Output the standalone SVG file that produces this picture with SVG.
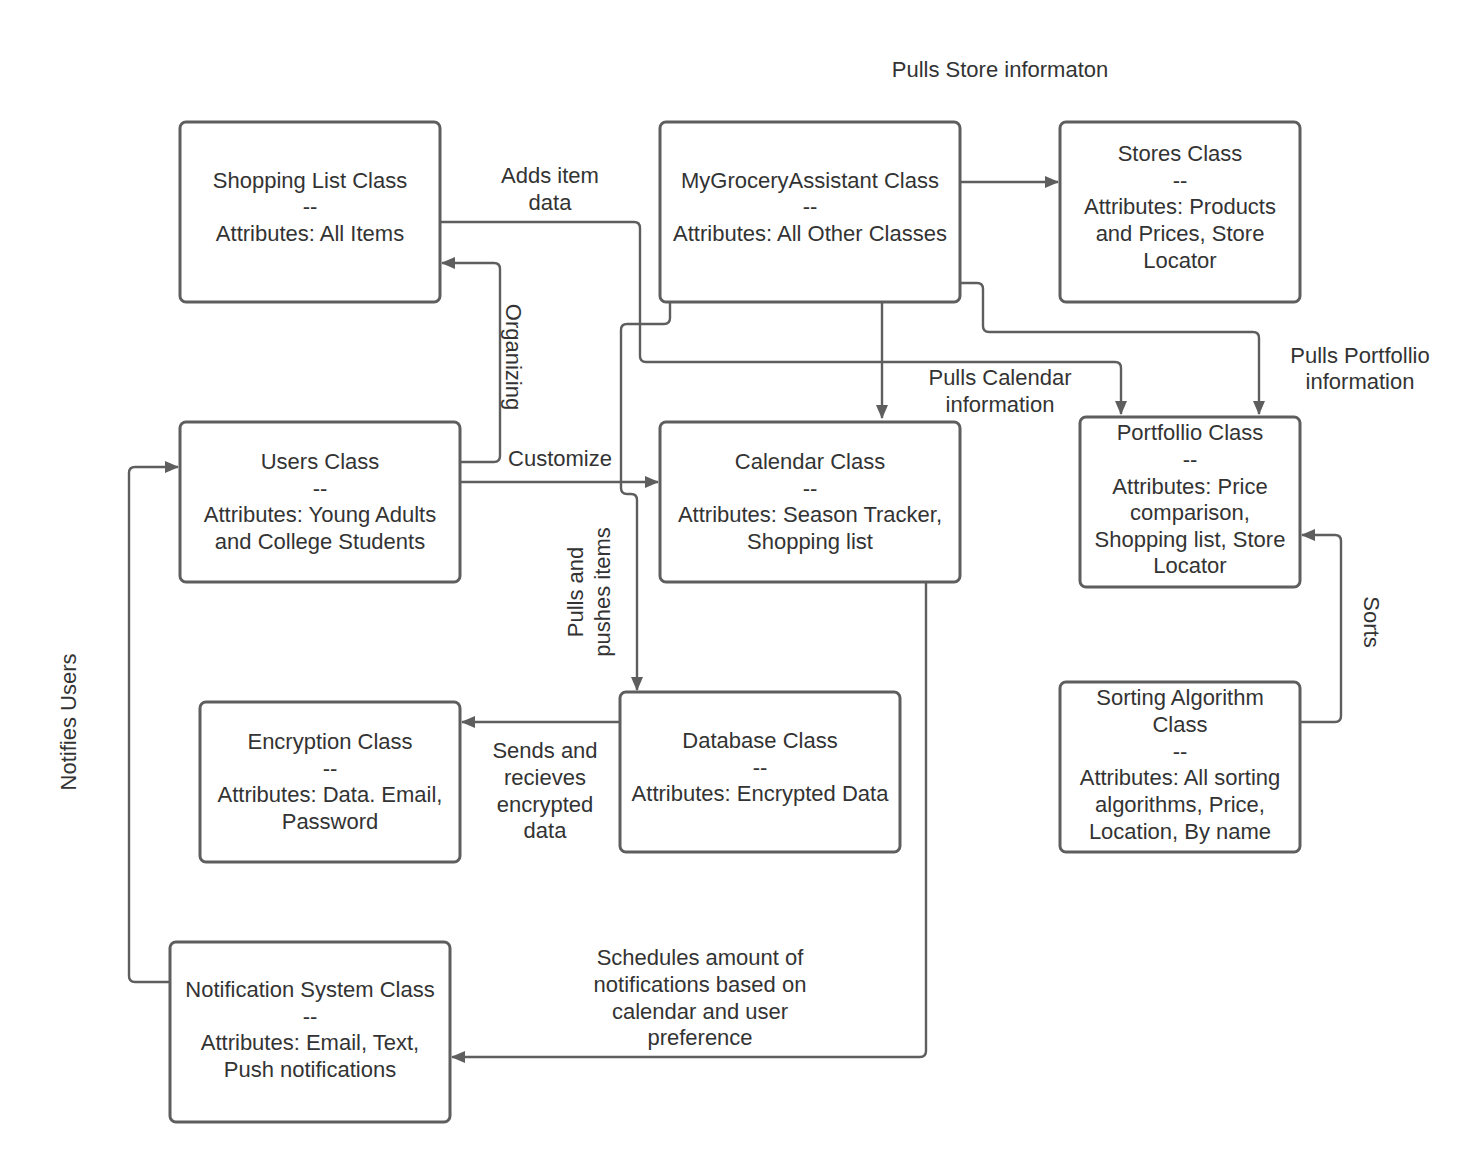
<svg xmlns="http://www.w3.org/2000/svg" width="1480" height="1162" viewBox="0 0 1480 1162">
<style>
.box{fill:#fff;stroke:#5e5e5e;stroke-width:3}
.c{fill:none;stroke:#5e5e5e;stroke-width:2.4;stroke-linejoin:round}
text{font-family:"Liberation Sans",Arial,sans-serif;font-size:22px;fill:#333;text-anchor:middle}
</style>
<defs>
<marker id="ah" viewBox="0 0 14 12" refX="13" refY="6" markerWidth="14" markerHeight="12" markerUnits="userSpaceOnUse" orient="auto">
<path d="M0,0 L14,6 L0,12 Z" fill="#5e5e5e"/>
</marker>
</defs>
<rect width="1480" height="1162" fill="#fff"/>
<g id="connectors">
<path class="c" d="M441,222 H634 Q640,222 640,228 V356 Q640,362 646,362 H1115 Q1121,362 1121,368 V414" marker-end="url(#ah)"/>
<path class="c" d="M460,462 H494 Q500,462 500,456 V269 Q500,263 494,263 H442" marker-end="url(#ah)"/>
<path class="c" d="M460,482 H658" marker-end="url(#ah)"/>
<path class="c" d="M670,302 V318 Q670,324 664,324 H627 Q621,324 621,330 V488 Q621,494 627,494 H631 Q637,494 637,500 V690" marker-end="url(#ah)"/>
<path class="c" d="M960,182 H1058" marker-end="url(#ah)"/>
<path class="c" d="M882,302 V418" marker-end="url(#ah)"/>
<path class="c" d="M960,283 H977 Q983,283 983,289 V326 Q983,332 989,332 H1253 Q1259,332 1259,338 V414" marker-end="url(#ah)"/>
<path class="c" d="M1300,722 H1335 Q1341,722 1341,716 V541 Q1341,535 1335,535 H1302" marker-end="url(#ah)"/>
<path class="c" d="M170,982 H135 Q129,982 129,976 V473 Q129,467 135,467 H178" marker-end="url(#ah)"/>
<path class="c" d="M926,582 V1051 Q926,1057 920,1057 H452" marker-end="url(#ah)"/>
<path class="c" d="M620,722 H462" marker-end="url(#ah)"/>
</g>
<g id="labels">
<text x="1000" y="77">Pulls Store informaton</text>
<text x="550" y="183">Adds item</text>
<text x="550" y="210">data</text>
<text transform="translate(514,357) rotate(90)" y="8">Organizing</text>
<text x="560" y="466">Customize</text>
<text x="1000" y="385">Pulls Calendar</text>
<text x="1000" y="412">information</text>
<text x="1360" y="363">Pulls Portfollio</text>
<text x="1360" y="389">information</text>
<text transform="translate(589,592) rotate(-90)"><tspan x="0" y="-6">Pulls and</tspan><tspan x="0" y="21">pushes items</tspan></text>
<text x="545" y="758">Sends and</text>
<text x="545" y="785">recieves</text>
<text x="545" y="812">encrypted</text>
<text x="545" y="838">data</text>
<text transform="translate(1372,622) rotate(90)" y="8">Sorts</text>
<text transform="translate(68,722) rotate(-90)" y="8">Notifies Users</text>
<text x="700" y="965">Schedules amount of</text>
<text x="700" y="992">notifications based on</text>
<text x="700" y="1019">calendar and user</text>
<text x="700" y="1045">preference</text>
</g>
<g id="shopping-list">
<rect class="box" x="180" y="122" width="260" height="180" rx="6"/>
<text x="310" y="188">Shopping List Class</text>
<text x="310" y="214">--</text>
<text x="310" y="241">Attributes: All Items</text>
</g>
<g id="mygrocery">
<rect class="box" x="660" y="122" width="300" height="180" rx="6"/>
<text x="810" y="188">MyGroceryAssistant Class</text>
<text x="810" y="214">--</text>
<text x="810" y="241">Attributes: All Other Classes</text>
</g>
<g id="stores">
<rect class="box" x="1060" y="122" width="240" height="180" rx="6"/>
<text x="1180" y="161">Stores Class</text>
<text x="1180" y="188">--</text>
<text x="1180" y="214">Attributes: Products</text>
<text x="1180" y="241">and Prices, Store</text>
<text x="1180" y="268">Locator</text>
</g>
<g id="users">
<rect class="box" x="180" y="422" width="280" height="160" rx="6"/>
<text x="320" y="469">Users Class</text>
<text x="320" y="496">--</text>
<text x="320" y="522">Attributes: Young Adults</text>
<text x="320" y="549">and College Students</text>
</g>
<g id="calendar">
<rect class="box" x="660" y="422" width="300" height="160" rx="6"/>
<text x="810" y="469">Calendar Class</text>
<text x="810" y="496">--</text>
<text x="810" y="522">Attributes: Season Tracker,</text>
<text x="810" y="549">Shopping list</text>
</g>
<g id="portfolio">
<rect class="box" x="1080" y="417" width="220" height="170" rx="6"/>
<text x="1190" y="440">Portfollio Class</text>
<text x="1190" y="467">--</text>
<text x="1190" y="494">Attributes: Price</text>
<text x="1190" y="520">comparison,</text>
<text x="1190" y="547">Shopping list, Store</text>
<text x="1190" y="573">Locator</text>
</g>
<g id="encryption">
<rect class="box" x="200" y="702" width="260" height="160" rx="6"/>
<text x="330" y="749">Encryption Class</text>
<text x="330" y="776">--</text>
<text x="330" y="802">Attributes: Data. Email,</text>
<text x="330" y="829">Password</text>
</g>
<g id="database">
<rect class="box" x="620" y="692" width="280" height="160" rx="6"/>
<text x="760" y="748">Database Class</text>
<text x="760" y="775">--</text>
<text x="760" y="801">Attributes: Encrypted Data</text>
</g>
<g id="sorting">
<rect class="box" x="1060" y="682" width="240" height="170" rx="6"/>
<text x="1180" y="705">Sorting Algorithm</text>
<text x="1180" y="732">Class</text>
<text x="1180" y="759">--</text>
<text x="1180" y="785">Attributes: All sorting</text>
<text x="1180" y="812">algorithms, Price,</text>
<text x="1180" y="839">Location, By name</text>
</g>
<g id="notification">
<rect class="box" x="170" y="942" width="280" height="180" rx="6"/>
<text x="310" y="997">Notification System Class</text>
<text x="310" y="1024">--</text>
<text x="310" y="1050">Attributes: Email, Text,</text>
<text x="310" y="1077">Push notifications</text>
</g>
</svg>
